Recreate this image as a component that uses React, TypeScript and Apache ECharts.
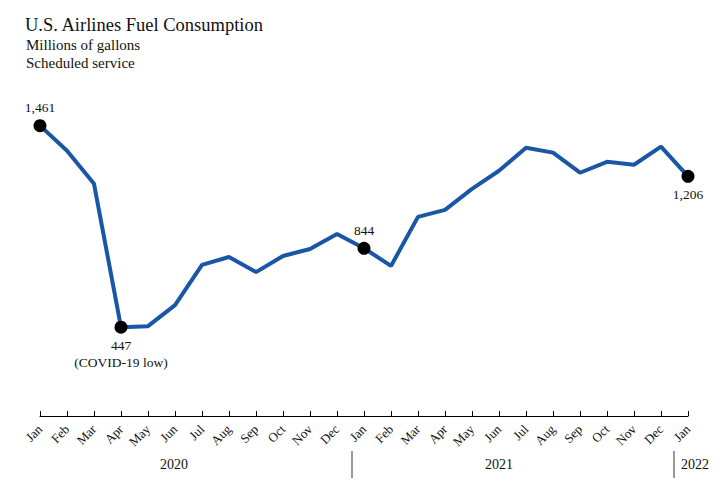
import React, { useEffect, useRef } from "react";
import * as echarts from "echarts";

const months = [
  "Jan", "Feb", "Mar", "Apr", "May", "Jun", "Jul", "Aug", "Sep", "Oct", "Nov", "Dec",
  "Jan", "Feb", "Mar", "Apr", "May", "Jun", "Jul", "Aug", "Sep", "Oct", "Nov", "Dec",
  "Jan",
];
const fuel = [
  1461, 1335, 1168, 447, 452, 558, 760, 800, 724, 805, 840, 916,
  844, 755, 1002, 1037, 1143, 1234, 1350, 1325, 1224, 1279, 1264, 1355,
  1206,
];
const highlights = [
  { index: 0, text: "1,461", pos: "top" },
  { index: 3, text: "447\n(COVID-19 low)", pos: "bottom" },
  { index: 12, text: "844", pos: "top" },
  { index: 24, text: "1,206", pos: "bottom" },
];
const years = [
  { text: "2020", x: 175 },
  { text: "2021", x: 500 },
  { text: "2022", x: 696 },
];
const separators = [352, 674];

const FONT = "'Liberation Serif', 'DejaVu Serif', serif";

export default function App() {
  const ref = useRef<HTMLDivElement>(null);
  useEffect(() => {
    if (!ref.current) return;
    const chart = echarts.init(ref.current, null, { renderer: "svg" });
    const scatterData = fuel.map((v, i) => {
      const h = highlights.find((d) => d.index === i);
      if (!h) return null;
      return {
        value: v,
        label: {
          show: true,
          position: h.pos,
          formatter: h.text,
          distance: 3,
        },
      };
    });
    chart.setOption({
      animation: false,
      backgroundColor: "#ffffff",
      textStyle: { fontFamily: FONT },
      title: [
        {
          text: "U.S. Airlines Fuel Consumption",
          left: 20,
          top: 10,
          textStyle: { fontFamily: FONT, fontSize: 18.5, fontWeight: "normal", color: "#111" },
        },
        {
          text: "Millions of gallons",
          left: 21,
          top: 32,
          textStyle: { fontFamily: FONT, fontSize: 15, fontWeight: "normal", color: "#111" },
        },
        {
          text: "Scheduled service",
          left: 21,
          top: 50,
          textStyle: { fontFamily: FONT, fontSize: 15, fontWeight: "normal", color: "#111" },
        },
      ],
      grid: { left: 40, right: 37, top: 98, bottom: 77 },
      xAxis: {
        type: "category",
        data: months,
        boundaryGap: false,
        axisLine: { lineStyle: { color: "#000", width: 1 } },
        axisTick: { inside: true, length: 5, lineStyle: { color: "#000" } },
        axisLabel: {
          rotate: 45,
          fontFamily: FONT,
          fontSize: 13,
          color: "#111",
          margin: 11,
          interval: 0,
        },
      },
      yAxis: {
        type: "value",
        min: 0,
        max: 1600,
        show: false,
        splitLine: { show: false },
      },
      series: [
        {
          type: "line",
          data: fuel,
          symbol: "none",
          lineStyle: { color: "#1a56a6", width: 4 },
          itemStyle: { color: "#1a56a6" },
          z: 2,
        },
        {
          type: "scatter",
          data: scatterData,
          symbolSize: 13,
          itemStyle: { color: "#000", opacity: 1 },
          label: {
            fontFamily: FONT,
            fontSize: 13.5,
            color: "#111",
            lineHeight: 17,
          },
          z: 3,
        },
      ],
      graphic: [
        ...years.map((y) => ({
          type: "text",
          left: y.x - 15,
          top: 457,
          style: { text: y.text, font: `14px ${FONT}`, fill: "#111" },
        })),
        ...separators.map((x) => ({
          type: "line",
          shape: { x1: x, y1: 451, x2: x, y2: 478 },
          style: { stroke: "#333", lineWidth: 1 },
        })),
      ],
    });
    return () => chart.dispose();
  }, []);
  return (
    <div
      ref={ref}
      style={{ position: "fixed", left: 0, top: 0, width: 725, height: 493 }}
    />
  );
}
